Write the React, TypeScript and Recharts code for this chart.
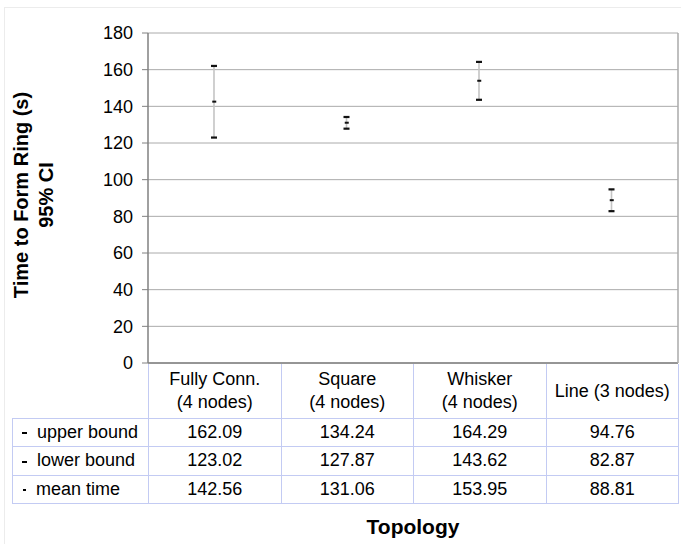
import { ComposedChart, Bar, Line, XAxis, YAxis, CartesianGrid, Label } from "recharts";

const topologies = ["Fully Conn.|(4 nodes)", "Square|(4 nodes)", "Whisker|(4 nodes)", "Line (3 nodes)"];
const upperBound = [162.09, 134.24, 164.29, 94.76];
const lowerBound = [123.02, 127.87, 143.62, 82.87];
const meanTime = [142.56, 131.06, 153.95, 88.81];
const yTicks = [0, 20, 40, 60, 80, 100, 120, 140, 160, 180];
const rowLabels = ["upper bound", "lower bound", "mean time"];
const rowValues = [upperBound, lowerBound, meanTime];

const FONT = '"Liberation Sans", Arial, sans-serif';
const TABLE_LINE = "#c3cbf3";

const data = topologies.map((name, i) => ({
  name,
  range: [lowerBound[i], upperBound[i]],
  mean: meanTime[i],
}));

// vertical CI line with black caps
function CiShape(props: any) {
  const { x, y, width, height } = props;
  const cx = x + width / 2;
  return (
    <g>
      <line x1={cx} x2={cx} y1={y} y2={y + height} stroke="#c4c4c4" strokeWidth={1.6} />
      <rect x={cx - 3} y={y - 1} width={6} height={2.2} fill="#111" />
      <rect x={cx - 3} y={y + height - 1} width={6} height={2.2} fill="#111" />
    </g>
  );
}

function MeanDot(props: any) {
  const { cx, cy, index } = props;
  return <rect key={index} x={cx - 2} y={cy - 1} width={4} height={2} fill="#111" />;
}

function YTitle(props: any) {
  const vb = props.viewBox;
  const cy = vb.y + vb.height / 2 - 3;
  return (
    <g fontFamily={FONT} fontWeight="bold" fontSize={20} fill="#000">
      <text x={28} y={cy} textAnchor="middle" transform={`rotate(-90, 28, ${cy})`}>
        Time to Form Ring (s)
      </text>
      <text x={53} y={cy} textAnchor="middle" transform={`rotate(-90, 53, ${cy})`}>
        95% CI
      </text>
    </g>
  );
}

const cell = (extra: any = {}) => ({
  borderLeft: `1px solid ${TABLE_LINE}`,
  borderRight: `1px solid ${TABLE_LINE}`,
  borderTop: `1px solid ${TABLE_LINE}`,
  borderBottom: `1px solid ${TABLE_LINE}`,
  padding: 0,
  textAlign: "center" as const,
  ...extra,
});

export default function App() {
  return (
    <div style={{ position: "absolute", left: 0, top: 0, width: 681, height: 544, background: "#fff", fontFamily: FONT, overflow: "hidden" }}>
      <div style={{ position: "absolute", left: 4, top: 7, width: 700, height: 560, border: "1px solid #ececec" }} />
      <div style={{ position: "absolute", left: 0, top: 0 }}>
        <ComposedChart width={681} height={418} data={data} margin={{ top: 33, right: 2, left: 0, bottom: 0 }}>
          <CartesianGrid yAxisId="left" vertical={false} stroke="#aaaaaa" strokeWidth={1} />
          <XAxis dataKey="name" height={55} tick={false} tickLine={false} axisLine={{ stroke: "#808080", strokeWidth: 1.5 }} />
          <YAxis
            yAxisId="left"
            width={148}
            domain={[0, 180]}
            ticks={yTicks}
            interval={0}
            tickSize={6}
            tickMargin={9}
            tick={{ fontSize: 18, fill: "#000", fontFamily: FONT }}
            tickLine={{ stroke: "#808080" }}
            axisLine={{ stroke: "#808080", strokeWidth: 1.5 }}
          >
            <Label content={<YTitle />} />
          </YAxis>
          <YAxis yAxisId="right" orientation="right" width={1} domain={[0, 180]} tick={false} tickLine={false} axisLine={{ stroke: "#aaaaaa", strokeWidth: 1.5 }} />
          <Bar yAxisId="left" dataKey="range" barSize={6} shape={<CiShape />} isAnimationActive={false} />
          <Line yAxisId="left" dataKey="mean" stroke="none" dot={<MeanDot />} activeDot={false} isAnimationActive={false} />
        </ComposedChart>
      </div>

      <table
        style={{
          position: "absolute",
          left: 12,
          top: 364,
          borderCollapse: "collapse",
          tableLayout: "fixed",
          fontSize: 18,
          color: "#000",
          fontFamily: FONT,
        }}
      >
        <colgroup>
          <col style={{ width: 136 }} />
          {topologies.map((t) => (
            <col key={t} style={{ width: 132.5 }} />
          ))}
        </colgroup>
        <tbody>
          <tr style={{ height: 54 }}>
            <td style={{ borderRight: `1px solid ${TABLE_LINE}`, borderBottom: `1px solid ${TABLE_LINE}`, padding: 0 }} />
            {topologies.map((t) => (
              <td key={t} style={cell({ borderTop: "none", lineHeight: "23px", paddingTop: 1 })}>
                {t.split("|").map((s) => (
                  <div key={s}>{s}</div>
                ))}
              </td>
            ))}
          </tr>
          {rowLabels.map((label, r) => (
            <tr key={label} style={{ height: 28.5 }}>
              <td style={cell({ textAlign: "left", paddingLeft: 9, whiteSpace: "nowrap" })}>
                <span
                  style={{
                    display: "inline-block",
                    width: r === 2 ? 3 : 5,
                    height: 2,
                    background: "#000",
                    verticalAlign: "middle",
                    marginRight: 10,
                    marginLeft: r === 2 ? 1 : 0,
                  }}
                />
                {label}
              </td>
              {rowValues[r].map((v, i) => (
                <td key={i} style={cell()}>
                  {v.toFixed(2)}
                </td>
              ))}
            </tr>
          ))}
        </tbody>
      </table>

      <div style={{ position: "absolute", left: 148, width: 530, top: 515, textAlign: "center", fontWeight: "bold", fontSize: 21, color: "#000" }}>
        Topology
      </div>
    </div>
  );
}
